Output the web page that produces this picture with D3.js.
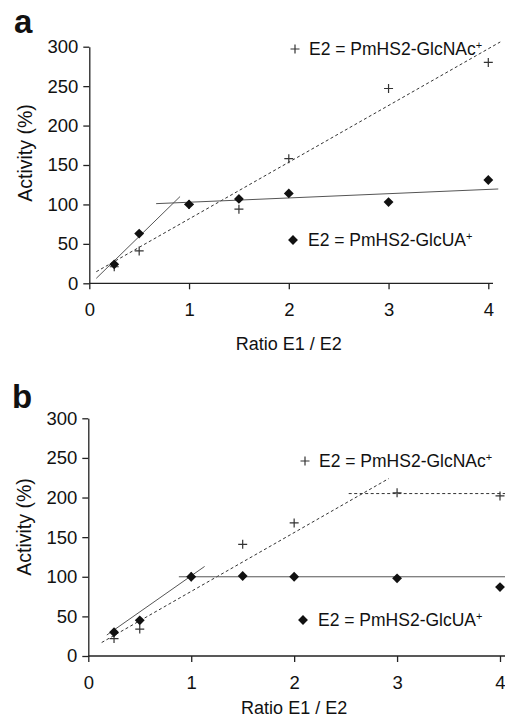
<!DOCTYPE html>
<html>
<head>
<meta charset="utf-8">
<script src="https://cdn.jsdelivr.net/npm/d3@7"></script>
<style>
  body { margin: 0; background: #fff; }
  svg text { font-family: "Liberation Sans", Arial, sans-serif; fill: #111; }
</style>
</head>
<body>
<div id="chart"></div>
<script>
// values
var ratios = [0.25, 0.5, 1, 1.5, 2, 3, 4];
var yTicks = [0, 50, 100, 150, 200, 250, 300];
var xTicks = [0, 1, 2, 3, 4];

var aGlcNAc = [21, 41, 100, 94, 158, 247, 280];
var aGlcUA  = [24, 63, 100, 107, 114, 103, 131];
var bGlcNAc = [22, 34, 100, 141, 168, 206, 202];
var bGlcUA  = [30, 45, 100, 101, 100, 98, 87];

// fitted line segments: [x0, x1], [y0, y1]
var aFitNAc  = [[0.07, 4.12], [14.7, 306]];
var aFitUA1  = [[0.07, 0.91], [6.3, 110]];
var aFitUA2  = [[0.67, 4.10], [101, 119.6]];
var bFitNAc1 = [[0.13, 2.92], [17, 224]];
var bFitNAc2 = [[2.53, 4.05], [205, 205]];
var bFitUA1  = [[0.18, 1.13], [26.5, 113]];
var bFitUA2  = [[0.88, 4.05], [100, 100]];

var svg = d3.select("#chart").append("svg")
    .attr("width", 505)
    .attr("height", 718);

function drawPanel(p) {
  var x = d3.scaleLinear().domain([0, 4]).range([p.left, p.right]);
  var y = d3.scaleLinear().domain([0, 300]).range([p.bottom, p.top]);
  var g = svg.append("g");

  // panel letter
  g.append("text")
      .attr("x", p.letterX).attr("y", p.letterY)
      .attr("font-size", 33).attr("font-weight", "bold")
      .text(p.letter);

  // axes
  var ay = g.append("g")
      .attr("transform", "translate(" + p.left + ",0)")
      .call(d3.axisLeft(y).tickValues(yTicks).tickFormat(d3.format("d"))
        .tickSize(6).tickSizeOuter(0).tickPadding(5));
  var ax = g.append("g")
      .attr("transform", "translate(0," + p.bottom + ")")
      .call(d3.axisBottom(x).tickValues(xTicks).tickFormat(d3.format("d"))
        .tickSize(6).tickSizeOuter(0).tickPadding(14));
  [ax, ay].forEach(function(a) {
    a.selectAll("text").attr("font-size", 18.5).attr("fill", "#111");
    a.selectAll("line").attr("stroke", "#222").attr("stroke-width", 1.3);
    a.select(".domain").attr("stroke", "#222").attr("stroke-width", 1.3);
  });
  ax.select(".domain").attr("d", "M" + p.left + ",0H" + p.axisEnd);

  g.append("text")
      .attr("x", (x(0) + x(4)) / 2).attr("y", p.xTitleY)
      .attr("text-anchor", "middle").attr("font-size", 18)
      .text("Ratio E1 / E2");
  g.append("text")
      .attr("transform", "translate(" + p.yTitleX + "," + p.yTitleY + ") rotate(-90)")
      .attr("text-anchor", "middle").attr("dy", "0.35em").attr("font-size", 19.5)
      .text("Activity (%)");

  // fitted lines
  p.fits.forEach(function(f) {
    g.append("line")
        .attr("x1", x(f.seg[0][0])).attr("y1", y(f.seg[1][0]))
        .attr("x2", x(f.seg[0][1])).attr("y2", y(f.seg[1][1]))
        .attr("stroke", f.dash ? "#333" : "#555")
        .attr("stroke-width", 1)
        .attr("stroke-dasharray", f.dash ? "3,2.5" : null);
  });

  var diamond = d3.symbol().type(d3.symbolDiamond2).size(62);
  var plus = "M-4.5,0H4.5M0,-4.5V4.5";

  g.append("g").selectAll("path")
    .data(ratios.map(function(r, i) { return [r, p.nac[i]]; }))
    .enter().append("path")
      .attr("transform", function(d) { return "translate(" + x(d[0]) + "," + y(d[1]) + ")"; })
      .attr("d", plus).attr("stroke", "#333").attr("stroke-width", 1.2).attr("fill", "none");

  g.append("g").selectAll("path")
    .data(ratios.map(function(r, i) { return [r, p.ua[i]]; }))
    .enter().append("path")
      .attr("transform", function(d) { return "translate(" + x(d[0]) + "," + y(d[1]) + ")"; })
      .attr("d", diamond).attr("fill", "#111");

  // legends
  g.append("path")
      .attr("transform", "translate(" + p.legNac[0] + "," + p.legNac[1] + ")")
      .attr("d", plus).attr("stroke", "#333").attr("stroke-width", 1.2);
  var t1 = g.append("text")
      .attr("x", p.legNac[0] + 14).attr("y", p.legNac[1]).attr("dy", "0.35em")
      .attr("font-size", 17.5).text("E2 = PmHS2-GlcNAc");
  t1.append("tspan").attr("dy", "-0.55em").attr("font-size", 11).text("+");

  g.append("path")
      .attr("transform", "translate(" + p.legUa[0] + "," + p.legUa[1] + ")")
      .attr("d", diamond).attr("fill", "#111");
  var t2 = g.append("text")
      .attr("x", p.legUa[0] + 15).attr("y", p.legUa[1]).attr("dy", "0.35em")
      .attr("font-size", 17.5).text("E2 = PmHS2-GlcUA");
  t2.append("tspan").attr("dy", "-0.55em").attr("font-size", 11).text("+");
}

drawPanel({
  letter: "a", letterX: 14, letterY: 33,
  left: 89.3, right: 488.3, top: 46.7, bottom: 283.3, axisEnd: 493,
  xTitleY: 350, yTitleX: 25, yTitleY: 153,
  nac: aGlcNAc, ua: aGlcUA,
  fits: [{seg: aFitNAc, dash: true}, {seg: aFitUA1}, {seg: aFitUA2}],
  legNac: [295, 49], legUa: [293, 240]
});

drawPanel({
  letter: "b", letterX: 12, letterY: 408,
  left: 88.3, right: 500, top: 418.3, bottom: 656, axisEnd: 505,
  xTitleY: 714, yTitleX: 24, yTitleY: 527,
  nac: bGlcNAc, ua: bGlcUA,
  fits: [{seg: bFitNAc1, dash: true}, {seg: bFitNAc2, dash: true}, {seg: bFitUA1}, {seg: bFitUA2}],
  legNac: [305, 461], legUa: [303, 620]
});
</script>
</body>
</html>
